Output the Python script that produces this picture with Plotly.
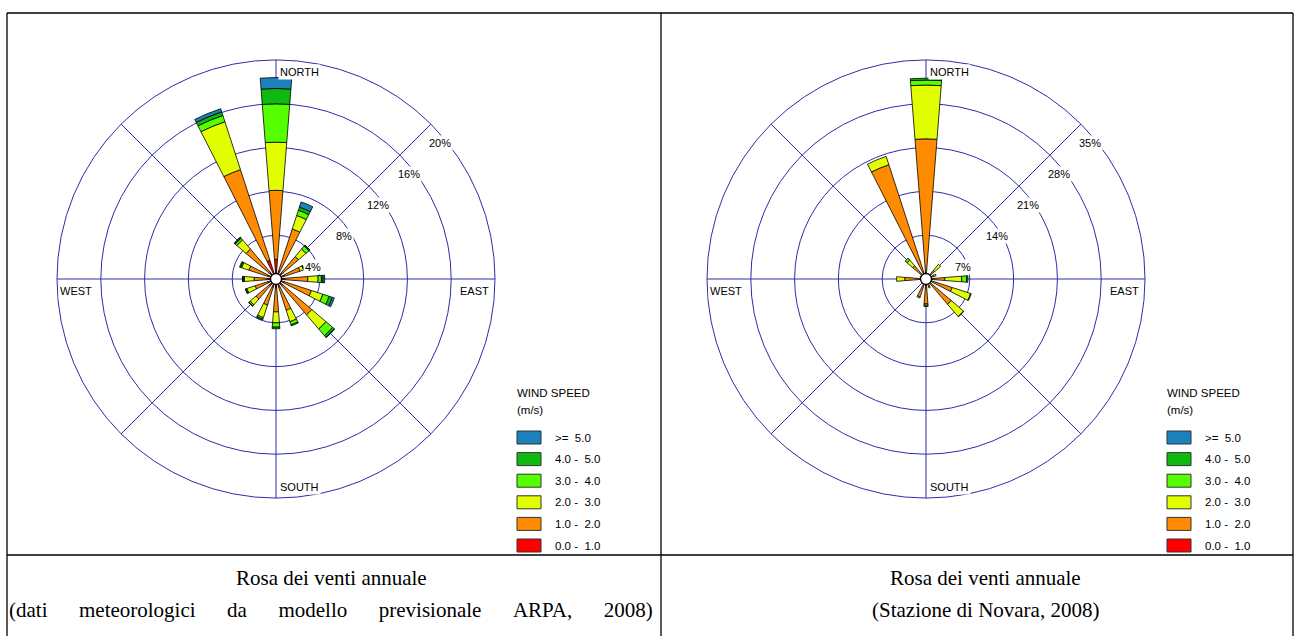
import plotly.graph_objects as go
import math

# ---------------- data ----------------
DIRECTIONS = ["N", "NNE", "NE", "ENE", "E", "ESE", "SE", "SSE",
              "S", "SSW", "SW", "WSW", "W", "WNW", "NW", "NNW"]
SPEED_BINS = ["0.0 -\u00a0 1.0", "1.0 -\u00a0 2.0", "2.0 -\u00a0 3.0",
              "3.0 -\u00a0 4.0", "4.0 -\u00a0 5.0", ">=\u00a0 5.0"]
BIN_COLORS = ["#ff0000", "#ff8c00", "#e1ff00", "#55ff00", "#10b910", "#1b82bc"]

# Left rose: ARPA forecast model, 2008 (% frequency per direction and speed class)
ARPA_0_1 = [1.8, 0.8, 0.8, 0.8, 0.8, 0.8, 0.8, 0.8, 0.8, 0.8, 0.8, 0.8, 0.8, 0.8, 0.8, 1.8]
ARPA_1_2 = [6.3, 4.0, 1.9, 1.5, 2.1, 2.6, 3.5, 2.2, 2.2, 1.7, 1.6, 1.2, 1.2, 1.8, 2.8, 8.7]
ARPA_2_3 = [4.4, 1.3, 0.9, 0.35, 0.95, 1.1, 1.7, 1.1, 1.0, 1.2, 0.7, 0.8, 0.9, 0.7, 1.1, 4.6]
ARPA_3_4 = [3.5, 0.5, 0.35, 0.05, 0.3, 0.6, 0.8, 0.3, 0.4, 0.15, 0.15, 0.1, 0.05, 0.1, 0.2, 0.6]
ARPA_4_5 = [1.4, 0.3, 0.1, 0.02, 0.15, 0.3, 0.2, 0.1, 0.15, 0.1, 0.05, 0.05, 0.1, 0.1, 0.1, 0.35]
ARPA_5UP = [1.0, 0.5, 0.02, 0.0, 0.15, 0.2, 0.05, 0.0, 0.0, 0.0, 0.0, 0.0, 0.02, 0.0, 0.02, 0.3]

# Right rose: Novara station, 2008
NOV_0_1 = [1.0, 0.4, 0.6, 0.5, 0.6, 0.6, 0.6, 0.5, 0.6, 0.5, 0.4, 0.4, 0.6, 0.4, 0.6, 1.0]
NOV_1_2 = [21.4, 0.4, 1.2, 0.8, 2.4, 3.8, 4.7, 0.8, 3.4, 2.5, 0.5, 0.4, 2.8, 0.5, 2.2, 18.2]
NOV_2_3 = [8.6, 0.1, 1.3, 0.4, 2.7, 3.1, 2.6, 0.2, 0.2, 0.2, 0.0, 0.0, 1.3, 0.1, 1.2, 1.4]
NOV_3_4 = [0.8, 0.0, 0.0, 0.0, 0.8, 0.1, 0.05, 0.0, 0.2, 0.0, 0.0, 0.0, 0.0, 0.0, 0.4, 0.0]
NOV_4_5 = [0.3, 0.0, 0.0, 0.0, 0.2, 0.0, 0.0, 0.0, 0.0, 0.0, 0.0, 0.0, 0.0, 0.0, 0.0, 0.0]
NOV_5UP = [0.0, 0.0, 0.0, 0.0, 0.0, 0.0, 0.0, 0.0, 0.0, 0.0, 0.0, 0.0, 0.0, 0.0, 0.0, 0.0]

ARPA_RINGS = [4, 8, 12, 16, 20]
NOV_RINGS = [7, 14, 21, 28, 35]

CAPTIONS_LEFT = ["Rosa dei venti annuale",
                 "(dati meteorologici da modello previsionale ARPA, 2008)"]
CAPTIONS_RIGHT = ["Rosa dei venti annuale", "(Stazione di Novara, 2008)"]

# ---------------- layout geometry ----------------
W, H = 1297, 636
GRID = "#2c2ca8"
FONT = "Liberation Sans, Arial, sans-serif"
SERIF = "Liberation Serif, Times New Roman, serif"

panels = [
    dict(name="polar", cx=276, cy=279, R=219, rings=ARPA_RINGS,
         series=[ARPA_0_1, ARPA_1_2, ARPA_2_3, ARPA_3_4, ARPA_4_5, ARPA_5UP],
         captions=CAPTIONS_LEFT, capx=331, stretch=[1, 6]),
    dict(name="polar2", cx=926, cy=279, R=219, rings=NOV_RINGS,
         series=[NOV_0_1, NOV_1_2, NOV_2_3, NOV_3_4, NOV_4_5, NOV_5UP],
         captions=CAPTIONS_RIGHT, capx=985, stretch=[1, 1]),
]

thetas = [i * 360.0 / len(DIRECTIONS) for i in range(len(DIRECTIONS))]


def px(x):
    return x / W


def py(y):
    return 1 - y / H


fig = go.Figure()
annotations = []
shapes = []
layout_polars = {}

for p in panels:
    cx, cy, R = p["cx"], p["cy"], p["R"]
    rmax = p["rings"][-1]
    k = R / rmax
    sub = p["name"]
    for vals, col, lab in zip(p["series"], BIN_COLORS, SPEED_BINS):
        fig.add_trace(go.Barpolar(
            r=vals, theta=thetas, width=9, name=lab,
            marker=dict(color=col, line=dict(color="black", width=0.8)),
            subplot=sub, showlegend=False, hoverinfo="skip"))
    # calm circle at centre
    fig.add_trace(go.Scatterpolar(
        r=[0], theta=[0], mode="markers", subplot=sub, showlegend=False,
        marker=dict(size=11, color="white", line=dict(color="black", width=1.3)),
        hoverinfo="skip"))

    layout_polars[sub] = dict(
        domain=dict(x=[px(cx - R), px(cx + R)], y=[py(cy + R), py(cy - R)]),
        bgcolor="white",
        barmode="stack",
        radialaxis=dict(range=[0, rmax], tickvals=p["rings"][:-1], showline=False,
                        showticklabels=False, ticks="", gridcolor=GRID, gridwidth=1),
        angularaxis=dict(rotation=90, direction="clockwise",
                         tickvals=list(range(0, 360, 45)), showticklabels=False,
                         ticks="", showgrid=True, gridcolor=GRID, gridwidth=1,
                         showline=True, linecolor=GRID, linewidth=1),
    )

    # ring labels along the NE diagonal
    for v in p["rings"]:
        d = v * k * math.sqrt(0.5)
        annotations.append(dict(
            x=px(cx + d - 4), y=py(cy - d + 19), xref="paper", yref="paper",
            text=f"{v}%", showarrow=False, xanchor="left", yanchor="middle",
            font=dict(family=FONT, size=11, color="black"),
            bgcolor="white", borderpad=1))

    # compass labels
    comp = [
        ("NORTH", cx + 2, cy - R + 12, "left"),
        ("SOUTH", cx + 2, cy + R - 11, "left"),
        ("WEST", cx - R + 1, cy + 12, "left"),
        ("EAST", cx + R - 4, cy + 12, "right"),
    ]
    for t, x, y, xa in comp:
        annotations.append(dict(
            x=px(x), y=py(y), xref="paper", yref="paper", text=t,
            showarrow=False, xanchor=xa, yanchor="middle",
            font=dict(family=FONT, size=11, color="black"),
            bgcolor="white", borderpad=1))

    # legend
    lx = cx + 239
    for t, y in [("WIND SPEED", 393), ("(m/s)", 410)]:
        annotations.append(dict(x=px(lx), y=py(y), xref="paper", yref="paper",
                                text=t, showarrow=False, xanchor="left",
                                yanchor="middle",
                                font=dict(family=FONT, size=11.5, color="black")))
    n = len(SPEED_BINS)
    for j in range(n):
        idx = n - 1 - j
        yc = 437.5 + j * 21.6
        shapes.append(dict(type="rect", xref="paper", yref="paper",
                           x0=px(lx + 2), x1=px(lx + 26), y0=py(yc - 6.5), y1=py(yc + 6.5),
                           fillcolor=BIN_COLORS[idx], line=dict(color="#333333", width=1)))
        annotations.append(dict(x=px(lx + 38), y=py(yc), xref="paper", yref="paper",
                                text=SPEED_BINS[idx], showarrow=False, xanchor="left",
                                yanchor="middle",
                                font=dict(family=FONT, size=11.5, color="black")))

    # captions (second left line is justified across the whole table cell)
    for i, c in enumerate(p["captions"]):
        shown = c.replace(" ", "\u00a0" * p["stretch"][i])
        annotations.append(dict(x=px(p["capx"]), y=py(578 + 32 * i), xref="paper",
                                yref="paper", text=shown, showarrow=False, xanchor="center",
                                yanchor="middle",
                                font=dict(family=SERIF, size=21, color="black")))

# table borders
for (x0, y0, x1, y1) in [(7, 13, 1293, 13), (7, 13, 7, H + 5), (661, 13, 661, H + 5),
                         (1293, 13, 1293, H + 5), (7, 555, 1293, 555)]:
    shapes.append(dict(type="line", xref="paper", yref="paper",
                       x0=px(x0), x1=px(x1), y0=py(y0), y1=py(y1),
                       line=dict(color="black", width=1.3)))

fig.update_layout(
    width=W, height=H, autosize=False,
    margin=dict(l=0, r=0, t=0, b=0),
    paper_bgcolor="white",
    showlegend=False,
    annotations=annotations,
    shapes=shapes,
    **layout_polars,
)

fig.write_html("out.html", config={"displayModeBar": False},
               post_script="document.body.style.margin='0';document.body.style.overflow='hidden';")
